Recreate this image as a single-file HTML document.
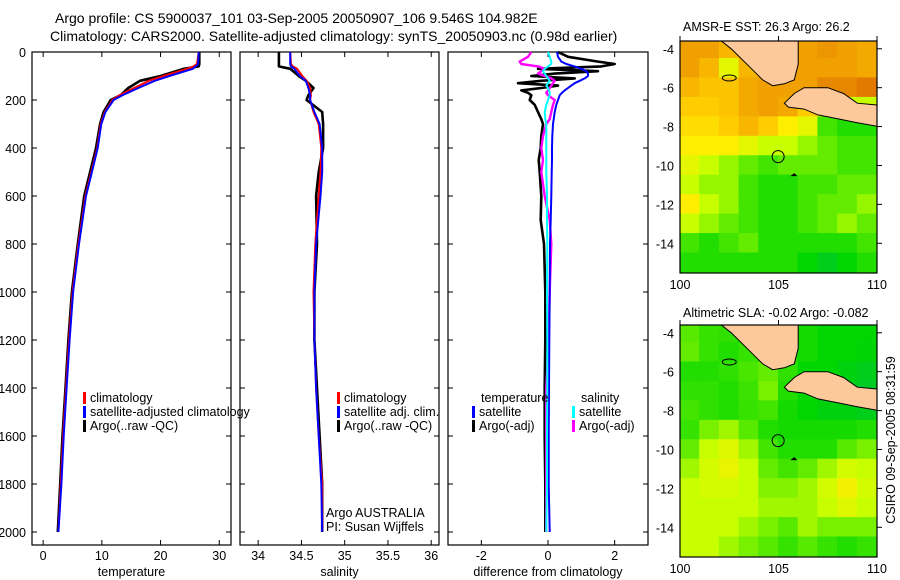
<!DOCTYPE html>
<html><head><meta charset="utf-8"><style>
html,body{margin:0;padding:0;background:#fff}
svg{display:block;font-family:"Liberation Sans",sans-serif}
text{font-size:12.5px;fill:#000}
</style></head><body>
<svg id="fig" width="900" height="580" viewBox="0 0 900 580">
<text x="55" y="23" style="font-size:14px">Argo profile: CS 5900037_101 03-Sep-2005 20050907_106 9.546S 104.982E</text>
<text x="50" y="41" style="font-size:14px">Climatology: CARS2000. Satellite-adjusted climatology: synTS_20050903.nc (0.98d earlier)</text>
<text x="683" y="31" style="font-size:12.5px">AMSR-E SST: 26.3 Argo: 26.2</text>
<text x="683" y="317" style="font-size:12.5px">Altimetric SLA: -0.02 Argo: -0.082</text>
<text transform="translate(895,440) rotate(-90)" text-anchor="middle">CSIRO 09-Sep-2005 08:31:59</text>
</svg>
<script>
// ---------- profile data ----------
const depth=[0,50,60,70,100,120,150,180,200,250,300,400,500,600,800,1000,1200,1400,1600,1800,2000];
const tempClim=[26.5,26.2,25.6,24.5,20.5,18,15.5,13,11.8,10.5,9.8,9.2,8.2,7.2,6,5,4.4,3.9,3.4,3,2.6];
const tempSat=[26.5,26.4,26,25.5,21.5,19,16.2,13.5,12,10.6,9.9,9.3,8.3,7.3,6.1,5.1,4.5,4,3.5,3.1,2.6];
const tempArgo=[26.6,26.6,26.5,24,20,16.5,14.5,13.2,11.5,10.3,9.7,9,8,7,5.9,4.9,4.3,3.8,3.3,2.9,2.5];
const salClim=[34.37,34.38,34.4,34.45,34.51,34.56,34.6,34.61,34.6,34.64,34.7,34.73,34.72,34.7,34.66,34.64,34.65,34.67,34.7,34.74,34.74];
const salSat=[34.37,34.37,34.38,34.42,34.48,34.55,34.58,34.6,34.6,34.65,34.71,34.74,34.74,34.72,34.67,34.65,34.65,34.67,34.7,34.73,34.74];
const salArgo=[34.24,34.24,34.24,34.37,34.47,34.55,34.64,34.58,34.56,34.74,34.75,34.75,34.7,34.67,34.68,34.65,34.65,34.68,34.71,34.74,34.74];
const diffDepth=[0,20,40,50,60,70,80,90,100,110,120,130,140,150,160,170,180,200,220,250,280,300,350,400,450,500,600,700,800,1000,1200,1400,1600,1800,2000];
const tDiffSat=[0.27,0.3,0.4,0.55,0.8,1.0,1.15,1.2,1.2,1.1,0.95,0.8,0.7,0.6,0.5,0.42,0.35,0.3,0.25,0.2,0.17,0.15,0.13,0.12,0.12,0.11,0.1,0.08,0.06,0.05,0.04,0.03,0.02,0.02,0.05];
const tDiffArgo=[0.3,0.6,1.5,2.0,1.6,-0.3,1.5,0.2,-0.5,0.8,-0.2,-0.9,0.3,-0.2,-0.8,-0.6,-0.5,-0.55,-0.4,-0.3,-0.2,-0.15,-0.2,-0.22,-0.28,-0.25,-0.2,-0.22,-0.12,-0.08,-0.08,-0.1,-0.1,-0.08,-0.08];
const sDiffSat=[0,0.05,0.1,0.1,0,-0.1,-0.15,-0.1,-0.05,0,0.05,0,-0.05,0,0.03,0.05,0.05,0,-0.05,-0.1,-0.08,-0.05,-0.05,-0.05,-0.05,-0.05,-0.03,-0.03,-0.02,-0.03,-0.02,-0.02,-0.03,-0.03,-0.05];
const sDiffArgo=[-0.5,-0.6,-0.85,-0.8,-0.3,-0.1,-0.2,-0.3,-0.1,0.1,0.2,0.15,0.1,0.05,0,-0.05,0,0.2,0.15,0.1,0.05,-0.05,-0.15,-0.2,-0.15,-0.2,-0.1,0.05,0.1,0.05,0.02,-0.05,-0.05,-0.05,-0.05];
const depthTicks=[0,200,400,600,800,1000,1200,1400,1600,1800,2000];
const tempTicks=[0,10,20,30];
const salTicks=[34,34.5,35,35.5,36];
const salTickLabels=["34","34.5","35","35.5","36"];
const diffTicks=[-2,0,2];
// ---------- map data (rows lat -4..-15, cols lon 100..109) ----------
const mapLats=[-4,-5,-6,-7,-8,-9,-10,-11,-12,-13,-14,-15];
const mapLons=[100,101,102,103,104,105,106,107,108,109];
const sstGrid=[
[0.8,0.8,0.75,0.8,0.8,0.8,0.8,0.82,0.8,0.78],
[0.8,0.75,0.55,0.75,0.8,0.8,0.8,0.8,0.8,0.78],
[0.75,0.72,0.72,0.78,0.8,0.8,0.8,0.85,0.85,0.88],
[0.7,0.7,0.72,0.78,0.8,0.78,0.7,0.6,0.5,0.5],
[0.65,0.65,0.7,0.75,0.7,0.6,0.55,0.35,0.3,0.3],
[0.6,0.6,0.6,0.55,0.5,0.5,0.45,0.4,0.35,0.35],
[0.55,0.5,0.45,0.4,0.35,0.4,0.4,0.4,0.35,0.35],
[0.5,0.45,0.45,0.35,0.3,0.3,0.35,0.35,0.4,0.4],
[0.6,0.5,0.45,0.35,0.3,0.3,0.35,0.4,0.4,0.45],
[0.5,0.45,0.4,0.35,0.3,0.3,0.35,0.4,0.45,0.4],
[0.35,0.3,0.35,0.4,0.3,0.3,0.3,0.3,0.3,0.35],
[0.3,0.3,0.3,0.3,0.3,0.3,0.25,0.2,0.25,0.3]];
const slaGrid=[
[0.38,0.33,0.32,0.3,0.3,0.3,0.28,0.25,0.25,0.25],
[0.4,0.33,0.3,0.33,0.3,0.3,0.28,0.25,0.25,0.24],
[0.3,0.3,0.32,0.36,0.4,0.32,0.25,0.25,0.22,0.2],
[0.32,0.32,0.3,0.34,0.42,0.3,0.25,0.22,0.2,0.18],
[0.35,0.32,0.3,0.33,0.35,0.28,0.25,0.22,0.22,0.2],
[0.33,0.42,0.46,0.38,0.3,0.28,0.28,0.28,0.28,0.3],
[0.4,0.5,0.54,0.46,0.35,0.3,0.3,0.3,0.38,0.42],
[0.46,0.52,0.56,0.5,0.4,0.35,0.4,0.46,0.52,0.5],
[0.5,0.52,0.52,0.5,0.43,0.43,0.46,0.52,0.58,0.52],
[0.5,0.5,0.5,0.5,0.46,0.46,0.46,0.5,0.54,0.5],
[0.5,0.5,0.5,0.46,0.42,0.38,0.46,0.42,0.42,0.42],
[0.5,0.5,0.46,0.42,0.38,0.33,0.38,0.33,0.3,0.33]];
const mapLatTicks=[-4,-6,-8,-10,-12,-14];
const mapLonTicks=[100,105,110];
const argoLon=104.982, argoLat=-9.546;
const sumatra=[[102.1,-3.6],[102.6,-4.0],[103.4,-4.8],[104.2,-5.6],[104.7,-5.9],[105.3,-5.8],[105.8,-5.6],[106.0,-4.8],[106.0,-3.6]];
const java=[[105.3,-6.8],[105.8,-6.3],[106.3,-6.0],[107.5,-6.0],[108.3,-6.3],[109,-6.8],[110.1,-6.9],[110.1,-8.0],[109,-7.8],[108,-7.6],[107,-7.4],[106.3,-7.1],[105.5,-7.0]];

const NS="http://www.w3.org/2000/svg";
const svg=document.getElementById('fig');
function mk(tag,attrs,parent){const e=document.createElementNS(NS,tag);for(const k in attrs)e.setAttribute(k,attrs[k]);(parent||svg).appendChild(e);return e;}
const Y0=52,Y1=545;
const yD=d=>Y0+d*0.24;
function panel(name,x0,x1,vmin,vmax){
  const g=mk('g',{});
  
  
  const sx=v=>x0+(v-vmin)/(vmax-vmin)*(x1-x0);
  mk('rect',{x:x0,y:Y0,width:x1-x0,height:Y1-Y0,fill:'none',stroke:'#000','stroke-width':1.2},g);
  return {g,sx};
}
function ticksX(p,vals,labels,x0,x1,title){
  vals.forEach((v,i)=>{const x=p.sx(v);
    mk('line',{x1:x,x2:x,y1:Y1,y2:Y1-5,stroke:'#000'},p.g);
    mk('line',{x1:x,x2:x,y1:Y0,y2:Y0+5,stroke:'#000'},p.g);
    const t=mk('text',{x:x,y:Y1+15,'text-anchor':'middle'},p.g);t.textContent=labels[i];
    
    
  });
  depthTicks.forEach(d=>{const y=yD(d);
    mk('line',{x1:x0,x2:x0+5,y1:y,y2:y,stroke:'#000'},p.g);
    mk('line',{x1:x1,x2:x1-5,y1:y,y2:y,stroke:'#000'},p.g);});
  const t=mk('text',{x:(x0+x1)/2,y:Y1+31,'text-anchor':'middle'},p.g);t.textContent=title;
  
  
}
function line(p,ds,vs,color,w,name){
  const pts=ds.map((d,i)=>p.sx(vs[i]).toFixed(1)+','+yD(d).toFixed(1)).join(' ');
  const l=mk('polyline',{points:pts,fill:'none',stroke:color,'stroke-width':w,'stroke-linejoin':'round'},p.g);
  
  
}
function legend(g,x,y,color,label,name){
  mk('rect',{x:x,y:y-10,width:3,height:12,fill:color},g);
  const t=mk('text',{x:x+7,y:y},g);t.textContent=label;
  
  
}
depthTicks.forEach(d=>{const t=mk('text',{x:26,y:yD(d)+5,'text-anchor':'end'});t.textContent=d;
  
  });
// temperature
const pT=panel('temperature-panel',32,231,-1.9,32);
ticksX(pT,tempTicks,tempTicks.map(String),32,231,'temperature');
line(pT,depth,tempArgo,'#000',2.6,'temp-argo-line');
line(pT,depth,tempClim,'#f00',2,'temp-climatology-line');
line(pT,depth,tempSat,'#00f',2,'temp-satellite-line');
legend(pT.g,83,402,'#f00','climatology','legend-climatology');
legend(pT.g,83,416,'#00f','satellite-adjusted climatology','legend-satellite');
legend(pT.g,83,430,'#000','Argo(..raw -QC)','legend-argo');
// salinity
const pS=panel('salinity-panel',240,439,33.79,36.09);
ticksX(pS,salTicks,salTickLabels,240,439,'salinity');
line(pS,depth,salArgo,'#000',2.6,'sal-argo-line');
line(pS,depth,salClim,'#f00',2,'sal-climatology-line');
line(pS,depth,salSat,'#00f',2,'sal-satellite-line');
legend(pS.g,337,402,'#f00','climatology','legend-sal-climatology');
legend(pS.g,337,416,'#00f','satellite adj. clim.','legend-sal-satellite');
legend(pS.g,337,430,'#000','Argo(..raw -QC)','legend-sal-argo');
const a1=mk('text',{x:326,y:517},pS.g);a1.textContent='Argo AUSTRALIA';


const a2=mk('text',{x:326,y:531},pS.g);a2.textContent='PI: Susan Wijffels';


// difference
const pD=panel('difference-panel',448,648,-3,3);
ticksX(pD,diffTicks,diffTicks.map(String),448,648,'difference from climatology');
line(pD,diffDepth,tDiffArgo,'#000',2.6,'diff-temp-argo-line');
line(pD,diffDepth,sDiffArgo,'#f0f',2.4,'diff-sal-argo-line');
line(pD,diffDepth,tDiffSat,'#00f',2,'diff-temp-satellite-line');
line(pD,diffDepth,sDiffSat,'#0ff',2,'diff-sal-satellite-line');
const lt=mk('text',{x:481,y:402},pD.g);lt.textContent='temperature';


const ls=mk('text',{x:581,y:402},pD.g);ls.textContent='salinity';


legend(pD.g,472,416,'#00f','satellite','legend-diff-temp-sat');
legend(pD.g,472,430,'#000','Argo(-adj)','legend-diff-temp-argo');
legend(pD.g,572,416,'#0ff','satellite','legend-diff-sal-sat');
legend(pD.g,572,430,'#f0f','Argo(-adj)','legend-diff-sal-argo');

// ---------- maps ----------
const stops=[[0,[0,176,128]],[0.25,[0,214,0]],[0.4,[100,236,0]],[0.5,[200,255,0]],[0.6,[255,238,0]],[0.7,[255,204,0]],[0.8,[240,160,0]],[0.9,[224,112,0]],[1,[192,48,0]]];
function cmap(v){for(let i=1;i<stops.length;i++){if(v<=stops[i][0]){const a=stops[i-1],b=stops[i],t=(v-a[0])/(b[0]-a[0]);
  return 'rgb('+a[1].map((c,k)=>Math.round(c+(b[1][k]-c)*t)).join(',')+')';}}return 'rgb(192,48,0)';}
function drawMap(name,grid,mx0,mx1,my0,my1,latTopV){
  const g=mk('g',{});
  
  
  const sx=lon=>mx0+(lon-100)*(mx1-mx0)/10;
  const ppd=19.45;
  const sy=lat=>my0+(latTopV-lat)*ppd;
  const cp=mk('clipPath',{id:name+'-clip'},g);mk('rect',{x:mx0,y:my0,width:mx1-mx0,height:my1-my0},cp);
  const inner=mk('g',{'clip-path':'url(#'+name+'-clip)'},g);
  grid.forEach((row,r)=>row.forEach((v,c)=>{
    const lat=mapLats[r],lon=mapLons[c];
    const cell=mk('rect',{x:sx(lon)-0.5,y:sy(lat+0.5)-0.5,width:(mx1-mx0)/10+1,height:ppd+1,fill:cmap(v)},inner);
    
    
  }));
  [sumatra,java].forEach(poly=>{
    const l=mk('polygon',{points:poly.map(p=>sx(p[0]).toFixed(1)+','+sy(p[1]).toFixed(1)).join(' '),fill:'#fdc99a',stroke:'#000','stroke-width':1},inner);
    
    
  });
  mk('ellipse',{cx:sx(102.5),cy:sy(-5.5),rx:7,ry:3,fill:'none',stroke:'#000'},inner);
  mk('path',{d:`M${sx(105.6)} ${sy(-10.55)} l4 -3 l3 3 z`,fill:'#000'},inner);
  const c=mk('circle',{cx:sx(argoLon),cy:sy(argoLat),r:6,fill:'none',stroke:'#000','stroke-width':1},inner);
  
  
  mk('rect',{x:mx0,y:my0,width:mx1-mx0,height:my1-my0,fill:'none',stroke:'#000','stroke-width':1.2},g);
  mapLatTicks.forEach(lat=>{const y=sy(lat);
    mk('line',{x1:mx1,x2:mx1+5,y1:y,y2:y,stroke:'#000'},g);
    const t=mk('text',{x:mx0-6,y:y+5,'text-anchor':'end'},g);t.textContent=lat;
    
    });
  mapLonTicks.forEach(lon=>{const x=sx(lon);
    mk('line',{x1:x,x2:x,y1:my0,y2:my0-5,stroke:'#000'},g);
    const t=mk('text',{x:x,y:my1+16,'text-anchor':'middle'},g);t.textContent=lon;
    
    });
}
drawMap('sst-map',sstGrid,680,877,41,273,-3.6);
drawMap('sla-map',slaGrid,680,877,325,557,-3.6);
</script>
</body></html>
